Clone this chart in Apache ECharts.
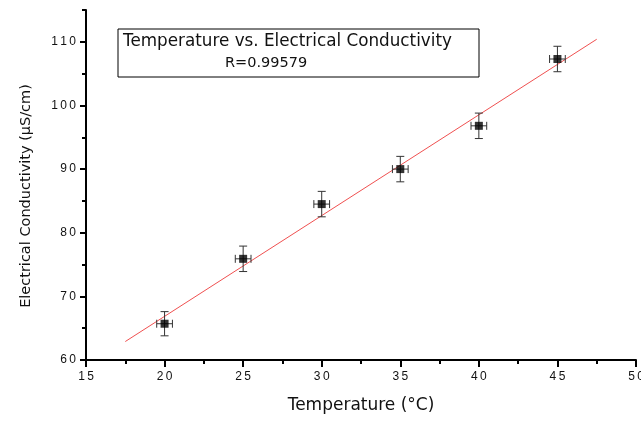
<!DOCTYPE html>
<html>
<head>
<meta charset="utf-8">
<script src="https://cdn.jsdelivr.net/npm/echarts@6/dist/echarts.min.js"></script>
<style>
    html, body { margin: 0; padding: 0; background: #fff; }
    #chart { width: 641px; height: 423px; }
</style>
</head>
<body>
<div id="chart"></div>
<script>
// measured points (temperature in °C, conductivity in µS/cm)
const tempC = [20, 25, 30, 35, 40, 45];
const conductivity = [65.7, 75.9, 84.5, 90.0, 96.8, 107.3];
const tempErr = [0.5, 0.5, 0.5, 0.5, 0.5, 0.5];
const condErr = [1.9, 2.0, 2.0, 2.0, 2.0, 2.0];
// linear fit end points
const fitX = [17.5, 47.5];
const fitY = [62.9, 110.4];
// tick values
const yMajorTicks = [60, 70, 80, 90, 100, 110];
const yMinorTicks = [65, 75, 85, 95, 105, 115];
const titleLine = 'Temperature vs. Electrical Conductivity';
const rLine = 'R=0.99579';

const chart = echarts.init(document.getElementById('chart'));
const font = "'Liberation Sans', Arial, sans-serif";
const wide = "'DejaVu Sans', Verdana, sans-serif";
const spaced = v => String(v).split('').join('\u2009');

const points = tempC.map((t, i) => [t, conductivity[i]]);
const errData = tempC.map((t, i) => [t, conductivity[i], tempErr[i], condErr[i]]);
const fitData = fitX.map((x, i) => [x, fitY[i]]);

function renderErr(params, api) {
    const x = api.value(0), y = api.value(1), ex = api.value(2), ey = api.value(3);
    const top = api.coord([x, y + ey]);
    const bot = api.coord([x, y - ey]);
    const lft = api.coord([x - ex, y]);
    const rgt = api.coord([x + ex, y]);
    const c = 4;
    const st = { stroke: '#333', lineWidth: 1 };
    const ln = (x1, y1, x2, y2) => ({ type: 'line', shape: { x1, y1, x2, y2 }, style: st });
    return {
        type: 'group',
        children: [
            ln(top[0], top[1], bot[0], bot[1]),
            ln(top[0] - c, top[1], top[0] + c, top[1]),
            ln(bot[0] - c, bot[1], bot[0] + c, bot[1]),
            ln(lft[0], lft[1], rgt[0], rgt[1]),
            ln(lft[0], lft[1] - c, lft[0], lft[1] + c),
            ln(rgt[0], rgt[1] - c, rgt[0], rgt[1] + c)
        ]
    };
}

const option = {
    backgroundColor: '#fff',
    animation: false,
    grid: { left: 86, right: 5, top: 10, bottom: 63, outerBoundsMode: 'none' },
    xAxis: {
        type: 'value',
        min: 15,
        max: 50,
        interval: 5,
        name: 'Temperature (°C)',
        nameLocation: 'middle',
        nameGap: 37,
        nameTextStyle: { fontFamily: wide, fontSize: 17, color: '#111' },
        axisLine: { lineStyle: { color: '#000', width: 2 } },
        axisTick: { length: 7, lineStyle: { color: '#000', width: 2 } },
        minorTick: { show: true, splitNumber: 2, length: 4, lineStyle: { color: '#000', width: 2 } },
        axisLabel: { fontFamily: font, fontSize: 12, color: '#111', margin: 11, formatter: spaced },
        splitLine: { show: false }
    },
    yAxis: [{
        type: 'value',
        min: 60,
        max: 115,
        name: 'Electrical Conductivity (µS/cm)',
        nameLocation: 'middle',
        nameGap: 52,
        nameRotate: 90,
        nameTextStyle: { fontFamily: wide, fontSize: 14.5, color: '#111', padding: [0, 0, 0, -22] },
        axisLine: { lineStyle: { color: '#000', width: 2 } },
        axisTick: { length: 6, customValues: yMajorTicks, lineStyle: { color: '#000', width: 2 } },
        axisLabel: { fontFamily: font, fontSize: 12, color: '#111', margin: 10, customValues: yMajorTicks, formatter: spaced },
        splitLine: { show: false }
    }, {
        type: 'value',
        min: 60,
        max: 115,
        position: 'left',
        axisLine: { show: false },
        axisTick: { length: 4, customValues: yMinorTicks, lineStyle: { color: '#000', width: 2 } },
        axisLabel: { show: false },
        splitLine: { show: false }
    }],
    graphic: [
        {
            type: 'rect',
            shape: { x: 118, y: 29, width: 361, height: 48 },
            style: { fill: '#fff', stroke: '#000', lineWidth: 1 },
            z: 10
        },
        {
            type: 'text',
            x: 123, y: 33,
            style: { text: titleLine, font: '16.8px ' + wide, fill: '#111' },
            z: 11
        },
        {
            type: 'text',
            x: 225, y: 56,
            style: { text: rLine, font: '14.5px ' + wide, fill: '#111' },
            z: 11
        }
    ],
    series: [
        {
            type: 'line',
            data: fitData,
            showSymbol: false,
            lineStyle: { color: '#f05050', width: 1 },
            z: 1
        },
        {
            type: 'custom',
            data: errData,
            renderItem: renderErr,
            z: 2
        },
        {
            type: 'scatter',
            data: points,
            symbol: 'rect',
            symbolSize: 8,
            itemStyle: { color: '#000' },
            z: 3
        }
    ]
};
chart.setOption(option);
</script>
</body>
</html>
